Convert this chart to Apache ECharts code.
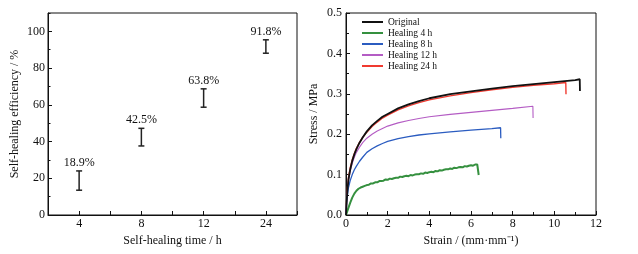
<!DOCTYPE html>
<html>
<head>
<meta charset="utf-8">
<script src="https://cdn.jsdelivr.net/npm/echarts@6/dist/echarts.min.js"></script>
<style>
  html, body { margin: 0; padding: 0; background: #fff; }
  #chart { width: 638px; height: 254px; }
</style>
</head>
<body>
<div id="chart"></div>
<script>
// left panel: healing efficiency per healing time
const healTimes = ['4', '8', '12', '24'];
const effMean = [18.9, 42.5, 63.8, 91.8];
const effLow = [13.5, 37.6, 58.7, 88.1];
const effHigh = [24.0, 47.2, 68.7, 95.4];

// right panel: stress-strain curves [strain, stress]
const curveNames = ['Original', 'Healing 4 h', 'Healing 8 h', 'Healing 12 h', 'Healing 24 h'];
const curveColors = ['#111111', '#35903f', '#2b5cc0', '#b45cc4', '#f03a30'];

const original = [
  [0, 0], [0.03, 0.032], [0.07, 0.062], [0.12, 0.088], [0.2, 0.112], [0.3, 0.134],
  [0.4, 0.15], [0.5, 0.163], [0.65, 0.179], [0.8, 0.192], [1, 0.207], [1.25, 0.222],
  [1.5, 0.233], [1.75, 0.243], [2, 0.25], [2.5, 0.264], [3, 0.274], [3.5, 0.282],
  [4, 0.289], [5, 0.299], [6, 0.306], [7, 0.313], [8, 0.319], [9, 0.324],
  [10, 0.329], [11, 0.334], [11.22, 0.336], [11.23, 0.307]
];
const heal4h = [
  [0, 0], [0.1, 0.015], [0.2, 0.03], [0.3, 0.043], [0.4, 0.053], [0.5, 0.06],
  [0.6, 0.065], [0.7, 0.068], [0.8, 0.070], [0.9, 0.072], [1.0, 0.074], [1.1, 0.075],
  [1.2, 0.078], [1.3, 0.078], [1.4, 0.081], [1.5, 0.081], [1.6, 0.084], [1.7, 0.084],
  [1.8, 0.085], [1.9, 0.088], [2.0, 0.087], [2.1, 0.090], [2.2, 0.089], [2.3, 0.091],
  [2.4, 0.092], [2.5, 0.092], [2.6, 0.095], [2.7, 0.094], [2.8, 0.096], [2.9, 0.097],
  [3.0, 0.096], [3.1, 0.099], [3.2, 0.098], [3.3, 0.100], [3.4, 0.101], [3.5, 0.101],
  [3.6, 0.103], [3.7, 0.102], [3.8, 0.105], [3.9, 0.104], [4.0, 0.106], [4.1, 0.107],
  [4.2, 0.106], [4.3, 0.109], [4.4, 0.108], [4.5, 0.111], [4.6, 0.110], [4.7, 0.112],
  [4.8, 0.113], [4.9, 0.113], [5.0, 0.115], [5.1, 0.114], [5.2, 0.117], [5.3, 0.116],
  [5.4, 0.118], [5.5, 0.119], [5.6, 0.118], [5.7, 0.121], [5.8, 0.120], [5.9, 0.122],
  [6.0, 0.123], [6.1, 0.122], [6.2, 0.125], [6.3, 0.125], [6.36, 0.127], [6.37, 0.099]
];
const heal8h = [
  [0, 0], [0.03, 0.03], [0.07, 0.05], [0.12, 0.068], [0.2, 0.085], [0.3, 0.1],
  [0.4, 0.112], [0.5, 0.121], [0.65, 0.133], [0.8, 0.143], [1, 0.155], [1.25, 0.164],
  [1.5, 0.171], [1.75, 0.177], [2, 0.182], [2.5, 0.189], [3, 0.194], [3.5, 0.198],
  [4, 0.201], [5, 0.206], [6, 0.21], [7, 0.214], [7.42, 0.216], [7.43, 0.19]
];
const heal12h = [
  [0, 0], [0.03, 0.035], [0.07, 0.062], [0.12, 0.085], [0.2, 0.108], [0.3, 0.128],
  [0.4, 0.143], [0.5, 0.155], [0.65, 0.168], [0.8, 0.179], [1, 0.19], [1.25, 0.2],
  [1.5, 0.208], [1.75, 0.214], [2, 0.22], [2.5, 0.228], [3, 0.234], [3.5, 0.239],
  [4, 0.243], [5, 0.249], [6, 0.254], [7, 0.259], [8, 0.264], [8.97, 0.269], [8.98, 0.24]
];
const heal24h = [
  [0, 0], [0.03, 0.036], [0.07, 0.068], [0.12, 0.093], [0.2, 0.116], [0.3, 0.137],
  [0.4, 0.152], [0.5, 0.165], [0.65, 0.18], [0.8, 0.192], [1, 0.205], [1.25, 0.219],
  [1.5, 0.23], [1.75, 0.24], [2, 0.247], [2.5, 0.26], [3, 0.27], [3.5, 0.278],
  [4, 0.285], [5, 0.295], [6, 0.303], [7, 0.31], [8, 0.316], [9, 0.321],
  [10, 0.325], [10.55, 0.328], [10.56, 0.299]
];
const curves = [original, heal4h, heal8h, heal12h, heal24h];
const curveWidths = [1.8, 2, 1.3, 1.1, 1.4];

const FONT = '"Liberation Serif", "Times New Roman", serif';
const chart = echarts.init(document.getElementById('chart'));

const axisText = { color: '#111', fontFamily: FONT, fontSize: 12 };
const nameText = { color: '#111', fontFamily: FONT, fontSize: 12 };
const blackLine = { show: true, lineStyle: { color: '#111', width: 1 } };

const option = {
  animation: false,
  backgroundColor: '#fff',
  grid: [
    { left: 48, right: 341, top: 13, bottom: 39, show: true, borderColor: '#111', borderWidth: 1 },
    { left: 346, right: 42, top: 13, bottom: 39, show: true, borderColor: '#111', borderWidth: 1 }
  ],
  legend: {
    left: 357,
    top: 12,
    orient: 'vertical',
    itemWidth: 21,
    itemHeight: 2,
    itemGap: 1,
    icon: 'rect',
    textStyle: { fontFamily: FONT, fontSize: 9.5, color: '#111', lineHeight: 10 },
    data: curveNames
  },
  xAxis: [
    {
      gridIndex: 0,
      type: 'category',
      data: healTimes,
      axisLine: blackLine,
      axisTick: { show: true, inside: true, length: 4, alignWithLabel: true, lineStyle: { color: '#111' } },
      axisLabel: Object.assign({ margin: 3 }, axisText),
      name: 'Self-healing time / h',
      nameLocation: 'middle',
      nameGap: 17,
      nameTextStyle: nameText
    },
    {
      gridIndex: 0,
      type: 'category',
      position: 'bottom',
      data: healTimes,
      axisLine: { show: false },
      axisTick: { show: true, inside: true, length: 4, lineStyle: { color: '#111' } },
      axisLabel: { show: false }
    },
    {
      gridIndex: 1,
      type: 'value',
      min: 0,
      max: 12,
      interval: 2,
      axisLine: blackLine,
      axisTick: { show: true, inside: true, length: 4, lineStyle: { color: '#111' } },
      minorTick: { show: true, splitNumber: 2, length: 3, lineStyle: { color: '#111' } },
      splitLine: { show: false },
      axisLabel: Object.assign({ margin: 3 }, axisText),
      name: 'Strain / (mm\u00b7mm\u207b\u00b9)',
      nameLocation: 'middle',
      nameGap: 17,
      nameTextStyle: nameText
    }
  ],
  yAxis: [
    {
      gridIndex: 0,
      type: 'value',
      min: 0,
      max: 110,
      interval: 20,
      axisLine: blackLine,
      axisTick: { show: true, inside: true, length: 4, lineStyle: { color: '#111' } },
      splitLine: { show: false },
      axisLabel: Object.assign({ margin: 3, showMaxLabel: false }, axisText),
      name: 'Self-healing efficiency / %',
      nameLocation: 'middle',
      nameGap: 27,
      nameTextStyle: nameText
    },
    {
      gridIndex: 0,
      type: 'value',
      position: 'left',
      min: 0,
      max: 110,
      interval: 10,
      axisLine: { show: false },
      axisTick: { show: true, inside: true, length: 2.5, lineStyle: { color: '#111' } },
      splitLine: { show: false },
      axisLabel: { show: false }
    },
    {
      gridIndex: 1,
      type: 'value',
      min: 0,
      max: 0.5,
      interval: 0.1,
      axisLine: blackLine,
      axisTick: { show: true, inside: true, length: 4, lineStyle: { color: '#111' } },
      minorTick: { show: true, splitNumber: 2, length: 3, lineStyle: { color: '#111' } },
      splitLine: { show: false },
      axisLabel: Object.assign({ margin: 4, formatter: v => v.toFixed(1) }, axisText),
      name: 'Stress / MPa',
      nameLocation: 'middle',
      nameGap: 26,
      nameTextStyle: nameText
    }
  ],
  series: [
    {
      type: 'custom',
      xAxisIndex: 0,
      yAxisIndex: 0,
      data: healTimes.map((t, i) => [i, effLow[i], effHigh[i], effMean[i]]),
      renderItem: (params, api) => {
        const lo = api.coord([api.value(0), api.value(1)]);
        const hi = api.coord([api.value(0), api.value(2)]);
        const cap = 3;
        const stroke = { stroke: '#222', lineWidth: 1.5 };
        return {
          type: 'group',
          children: [
            { type: 'line', shape: { x1: lo[0], y1: lo[1], x2: hi[0], y2: hi[1] }, style: stroke },
            { type: 'line', shape: { x1: lo[0] - cap, y1: lo[1], x2: lo[0] + cap, y2: lo[1] }, style: stroke },
            { type: 'line', shape: { x1: hi[0] - cap, y1: hi[1], x2: hi[0] + cap, y2: hi[1] }, style: stroke },
            {
              type: 'text',
              x: hi[0],
              y: hi[1] - 2,
              style: {
                text: api.value(3).toFixed(1) + '%',
                align: 'center',
                verticalAlign: 'bottom',
                fontFamily: FONT,
                fontSize: 12,
                fill: '#111'
              }
            }
          ]
        };
      }
    }
  ].concat(curves.map((c, i) => ({
    name: curveNames[i],
    type: 'line',
    xAxisIndex: 2,
    yAxisIndex: 2,
    data: c,
    showSymbol: false,
    symbol: 'none',
    color: curveColors[i],
    lineStyle: { color: curveColors[i], width: curveWidths[i] },
    z: 10 - i
  })))
};

chart.setOption(option);
</script>
</body>
</html>
